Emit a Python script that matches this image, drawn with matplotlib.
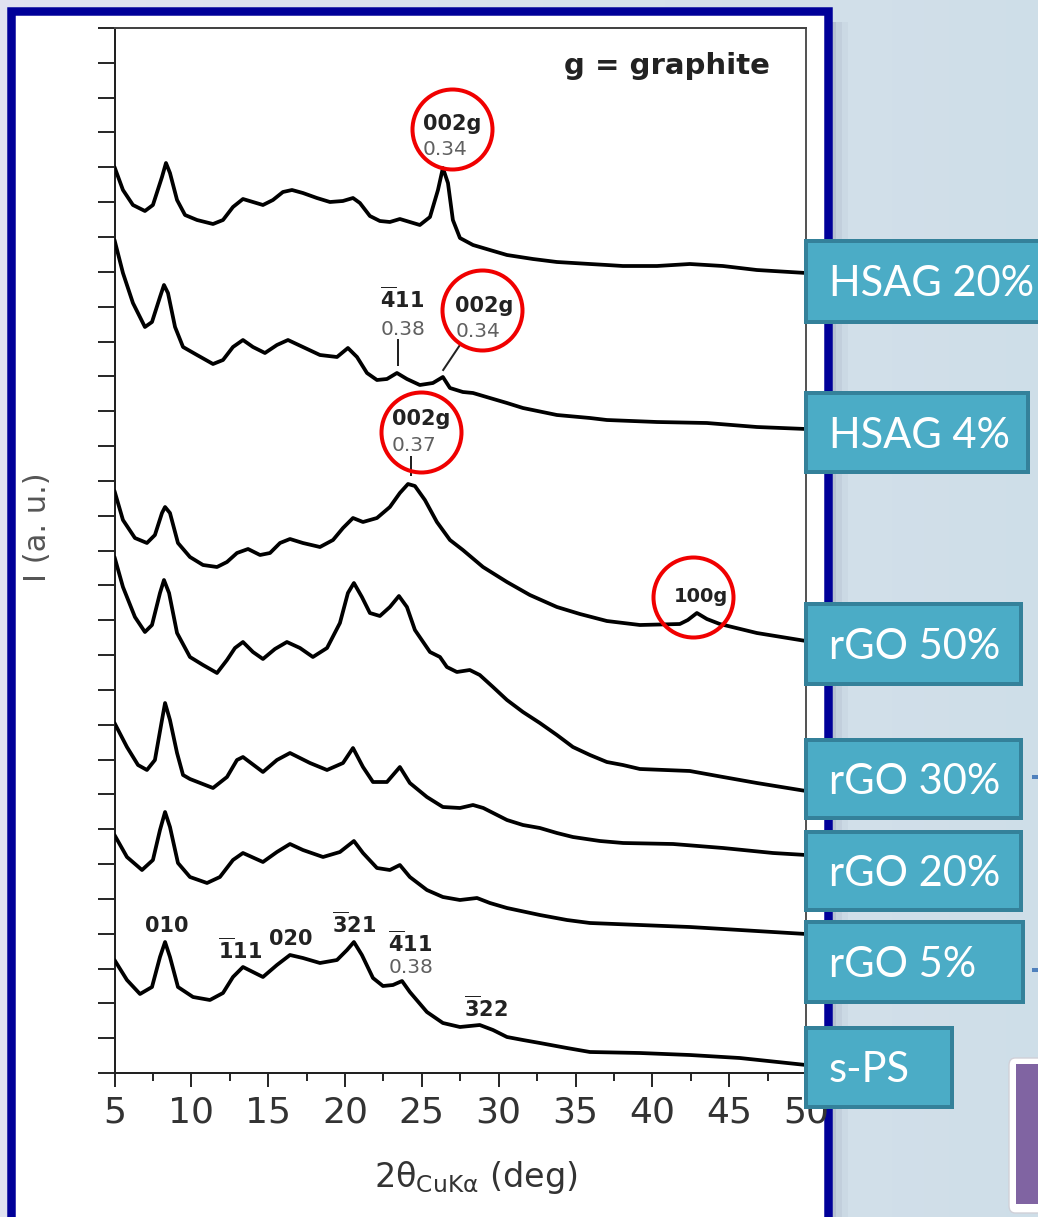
import numpy as np
import matplotlib
matplotlib.use("Agg")
import matplotlib.pyplot as plt
from matplotlib.patches import Rectangle, FancyBboxPatch

# ---------------- diffraction patterns: 2θ (deg) and stacked intensity (a.u.) ----------------
tt_hsag20 = [5.0, 5.55, 6.2, 6.98, 7.5, 8.09, 8.35, 8.61, 9.07, 9.59, 10.37, 11.41, 12.06, 12.71,
             13.36, 14.01, 14.66, 15.31, 15.96, 16.55, 17.26, 18.17, 19.02, 19.86, 20.52, 20.97,
             21.62, 22.27, 22.92, 23.57, 24.22, 24.87, 25.53, 26.05, 26.37, 26.7, 27.02, 27.48,
             28.33, 29.43, 30.54, 32.23, 33.79, 35.94, 37.04, 38.08, 40.3, 42.44, 44.59, 46.8, 50.0]
i_hsag20 = [906, 883, 868, 862, 868, 896, 910, 900, 873, 858, 853, 849, 853, 866,
            874, 871, 868, 873, 881, 883, 880, 875, 871, 872, 875, 870,
            857, 852, 851, 854, 851, 848, 856, 883, 905, 890, 853, 835,
            828, 823, 818, 814, 811, 809, 808, 807, 807, 809, 807, 803, 800]

tt_hsag4 = [5.0, 5.55, 6.2, 6.98, 7.44, 7.96, 8.22, 8.48, 8.94, 9.46, 10.37, 11.41, 12.06, 12.71,
            13.36, 14.01, 14.79, 15.57, 16.29, 17.26, 18.37, 19.48, 20.19, 20.78, 21.43, 22.08,
            22.73, 23.38, 24.03, 24.87, 25.72, 26.37, 26.83, 27.67, 28.33, 29.43, 30.54, 31.58,
            33.79, 35.94, 37.04, 40.3, 43.55, 46.8, 50.0]
i_hsag4 = [833, 800, 770, 746, 751, 776, 788, 780, 746, 726, 718, 709, 713, 726,
           733, 726, 720, 728, 733, 726, 718, 716, 725, 716, 700, 693,
           694, 700, 694, 688, 690, 696, 685, 681, 680, 675, 670, 665,
           658, 655, 653, 651, 650, 646, 644]

tt_rgo50 = [5.0, 5.55, 6.33, 7.11, 7.63, 8.09, 8.29, 8.61, 9.13, 9.91, 10.76, 11.67, 12.32, 12.97,
            13.69, 14.47, 15.12, 15.77, 16.42, 17.26, 18.37, 19.22, 19.87, 20.52, 21.17, 22.08,
            22.92, 23.57, 24.1, 24.55, 25.2, 25.98, 26.83, 27.67, 28.98, 30.54, 32.03, 33.79,
            35.29, 37.04, 39.19, 41.79, 42.31, 42.9, 43.55, 44.39, 46.8, 50.0]
i_rgo50 = [582, 553, 535, 530, 538, 560, 566, 560, 530, 516, 508, 506, 511, 520,
           524, 518, 520, 530, 534, 530, 526, 533, 545, 555, 551, 555,
           566, 580, 589, 587, 573, 551, 533, 523, 506, 491, 478, 466,
           459, 452, 448, 449, 453, 460, 454, 449, 440, 432]

tt_rgo30 = [5.0, 5.55, 6.33, 6.98, 7.44, 7.96, 8.22, 8.55, 9.07, 9.91, 10.76, 11.67, 12.32, 12.84,
            13.36, 14.01, 14.66, 15.44, 16.22, 17.07, 17.91, 18.83, 19.67, 20.19, 20.58, 21.1,
            21.62, 22.27, 22.92, 23.51, 24.03, 24.55, 25.53, 26.18, 26.63, 27.28, 28.12, 28.77,
            29.63, 30.54, 31.58, 32.68, 33.79, 34.83, 35.94, 37.04, 38.08, 39.19, 42.44, 44.6,
            46.8, 50.0]
i_rgo30 = [516, 486, 456, 441, 448, 480, 493, 480, 440, 416, 408, 400, 413, 425,
           431, 421, 414, 424, 431, 425, 416, 425, 450, 480, 490, 476,
           460, 457, 466, 477, 466, 443, 421, 416, 406, 401, 403, 398,
           386, 373, 361, 350, 338, 326, 318, 311, 308, 304, 302, 296,
           290, 282]

tt_rgo20 = [5.0, 5.81, 6.53, 7.11, 7.63, 8.09, 8.29, 8.61, 9.07, 9.46, 9.91, 11.41, 12.32, 12.97,
            13.36, 14.66, 15.57, 16.42, 17.72, 18.83, 19.87, 20.52, 21.17, 21.82, 22.73, 23.57,
            24.22, 25.33, 26.37, 27.48, 28.33, 29.0, 30.54, 31.58, 32.68, 33.79, 34.83, 36.59,
            38.1, 41.35, 44.6, 47.85, 50.0]
i_rgo20 = [350, 326, 308, 303, 313, 353, 370, 353, 320, 298, 294, 285, 296, 313,
           316, 301, 313, 320, 310, 303, 310, 325, 306, 291, 291, 306,
           290, 276, 266, 265, 268, 265, 253, 248, 245, 240, 236, 232,
           230, 229, 225, 220, 218]

tt_rgo5 = [5.0, 5.81, 6.79, 7.5, 7.96, 8.29, 8.61, 9.13, 9.91, 11.02, 11.86, 12.71, 13.36, 14.66,
           15.57, 16.42, 17.26, 18.57, 19.67, 20.58, 21.17, 22.08, 22.92, 23.57, 24.22, 25.33,
           26.37, 27.48, 28.59, 29.43, 30.54, 32.68, 34.44, 35.94, 39.19, 42.44, 45.69, 50.0]
i_rgo5 = [238, 216, 203, 213, 243, 261, 246, 210, 196, 190, 196, 213, 220, 211,
          221, 229, 223, 216, 221, 232, 220, 205, 203, 208, 196, 183,
          176, 173, 175, 170, 165, 158, 153, 150, 148, 146, 143, 139]

tt_sps = [5.0, 5.81, 6.66, 7.44, 7.96, 8.29, 8.61, 9.13, 10.11, 11.21, 12.06, 12.71, 13.36, 14.01,
          14.66, 15.57, 16.42, 17.26, 18.37, 19.48, 20.13, 20.58, 21.1, 21.82, 22.47, 23.12,
          23.71, 24.22, 25.33, 26.37, 27.48, 28.77, 29.63, 30.54, 31.58, 32.68, 34.44, 35.94,
          39.19, 42.44, 45.69, 50.0]
i_sps = [113, 93, 79, 86, 116, 131, 116, 86, 76, 73, 80, 96, 106, 101,
         96, 108, 118, 115, 110, 113, 123, 131, 118, 95, 87, 88,
         92, 81, 61, 50, 46, 48, 43, 36, 33, 30, 25, 21,
         20, 18, 15, 8]

sample_names = ["HSAG 20%", "HSAG 4%", "rGO 50%", "rGO 30%", "rGO 20%", "rGO 5%", "s-PS"]
patterns = [(tt_hsag20, i_hsag20), (tt_hsag4, i_hsag4), (tt_rgo50, i_rgo50), (tt_rgo30, i_rgo30),
            (tt_rgo20, i_rgo20), (tt_rgo5, i_rgo5), (tt_sps, i_sps)]

x_ticks = [5, 10, 15, 20, 25, 30, 35, 40, 45, 50]
x_tick_labels = [str(v) for v in x_ticks]

# ---------------- figure / slide layout ----------------
W, H, DPI = 1038, 1217, 100
fig = plt.figure(figsize=(W / DPI, H / DPI), dpi=DPI)
PT = 72.0 / DPI  # points per pixel


def fx(px):
    return px / W


def fy(py):
    return 1.0 - py / H


# slide backdrop: soft lavender-to-blue wash
bg = fig.add_axes([0, 0, 1, 1], zorder=-10)
bg.axis("off")
c_left = np.array([0.880, 0.890, 0.945])
c_right = np.array([0.810, 0.872, 0.910])
ramp = np.linspace(0.0, 1.0, 128)[None, :, None]
bg.imshow(c_left * (1 - ramp) + c_right * ramp, aspect="auto", extent=[0, 1, 0, 1])
bg.set_xlim(0, 1)
bg.set_ylim(0, 1)

# drop shadow right of the white panel
for k, a in enumerate([0.10, 0.06, 0.035]):
    fig.add_artist(Rectangle((fx(831), fy(1217)), (5 + 6 * k) / W, (1217 - 22) / H,
                             transform=fig.transFigure, facecolor="#3a3f66", alpha=a,
                             edgecolor="none", zorder=-3))

# white panel with a dark blue frame
fig.add_artist(Rectangle((fx(11), fy(1245)), (827.5 - 11) / W, (1245 - 11) / H,
                         transform=fig.transFigure, facecolor="white", edgecolor="#000099",
                         lw=8.5 * PT, zorder=-2))

# ---------------- XRD axes ----------------
ax_l, ax_r, ax_t, ax_b = 114.5, 806.0, 28.0, 1073.0
ax = fig.add_axes([fx(ax_l), fy(ax_b), (ax_r - ax_l) / W, (ax_b - ax_t) / H], zorder=0)
ax.set_facecolor("none")

for tt, inten in patterns:
    ax.plot(tt, inten, color="black", lw=2.7, solid_joinstyle="round", solid_capstyle="round",
            zorder=3)

ax.set_xlim(5, 50)
ax.set_ylim(0, 1045)

ax.set_xticks(x_ticks)
ax.set_xticklabels(x_tick_labels)
ax.set_xticks([7.5 + 5 * k for k in range(9)], minor=True)
ax.set_yticks(np.linspace(0, 1045, 31))
ax.tick_params(axis="y", which="major", direction="out", length=17 * PT, width=2 * PT,
               color="#2a2a2a", labelleft=False, left=True, right=False)
ax.tick_params(axis="x", which="major", direction="out", length=14 * PT, width=2 * PT,
               color="#2a2a2a", labelsize=26, labelcolor="#333333", pad=6, top=False)
ax.tick_params(axis="x", which="minor", direction="out", length=8 * PT, width=2 * PT,
               color="#2a2a2a", top=False)

for side, col in [("left", "#222222"), ("bottom", "#222222"), ("top", "#444444"),
                  ("right", "#555555")]:
    ax.spines[side].set_color(col)
    ax.spines[side].set_linewidth(2 * PT)

ax.set_xlabel(r"2θ$_{\mathregular{CuKα}}$ (deg)", fontsize=24, color="#333333")
ax.xaxis.set_label_coords((476 - ax_l) / (ax_r - ax_l), (ax_b - 1187) / (ax_b - ax_t))
ax.xaxis.label.set_verticalalignment("baseline")

ax.set_ylabel("I (a. u.)", fontsize=22, color="#555555")
ax.yaxis.set_label_coords((37 - ax_l) / (ax_r - ax_l), (ax_b - 527) / (ax_b - ax_t))
ax.yaxis.label.set_verticalalignment("center")

ax.text(40.95, 999, "g = graphite", fontsize=21, fontweight="bold", color="#222222",
        ha="center", va="baseline")

bold_kw = dict(fontsize=15, fontweight="bold", color="#222222", va="baseline", zorder=4)
num_kw = dict(fontsize=14.5, color="#606060", va="baseline", zorder=4)
ring_kw = dict(marker="o", ms=80 * PT, mfc="none", mec="#f00000", mew=4 * PT, ls="none",
               clip_on=False, zorder=5)

# HSAG 20 %: graphite 002 reflection
ax.text(25.07, 943, "002g", ha="left", **bold_kw)
ax.text(25.07, 918, "0.34", ha="left", **num_kw)
ax.plot([26.96], [944], **ring_kw)

# HSAG 4 %
ax.text(22.27, 765, r"$\mathbf{\overline{4}11}$", ha="left", **bold_kw)
ax.text(22.30, 738, "0.38", ha="left", **num_kw)
ax.plot([23.47, 23.47], [733, 708], color="#222222", lw=2 * PT, zorder=4)
ax.text(27.15, 761, "002g", ha="left", **bold_kw)
ax.text(27.17, 736, "0.34", ha="left", **num_kw)
ax.plot([26.39, 27.48], [703, 728], color="#222222", lw=2 * PT, zorder=4)
ax.plot([28.92], [763], **ring_kw)

# rGO 50 %
ax.text(23.03, 648, "002g", ha="left", **bold_kw)
ax.text(23.03, 622, "0.37", ha="left", **num_kw)
ax.plot([24.27, 24.27], [616, 598], color="#222222", lw=2 * PT, zorder=4)
ax.plot([24.92], [641], **ring_kw)
ax.text(43.14, 471, "100g", ha="center", fontsize=14, fontweight="bold", color="#222222",
        va="baseline", zorder=4)
ax.plot([42.66], [476], **ring_kw)

# s-PS reflections
ax.text(8.40, 141, "010", ha="center", **bold_kw)
ax.text(13.17, 114, r"$\mathbf{\overline{1}11}$", ha="center", **bold_kw)
ax.text(16.46, 128, "020", ha="center", **bold_kw)
ax.text(20.56, 140, r"$\mathbf{\overline{3}21}$", ha="center", **bold_kw)
ax.text(22.82, 121, r"$\mathbf{\overline{4}11}$", ha="left", **bold_kw)
ax.text(22.84, 100, "0.38", ha="left", **num_kw)
ax.text(29.16, 56, r"$\mathbf{\overline{3}22}$", ha="center", **bold_kw)

# ---------------- sample tags on the right ----------------
tag_boxes = [(241, 322, 1045), (393, 472, 1028), (604, 684, 1021), (740, 818, 1021),
             (832, 910, 1021), (922, 1002, 1023), (1028, 1107, 952)]
for name, (top, bot, right) in zip(sample_names, tag_boxes):
    fig.add_artist(Rectangle((fx(806), fy(bot)), (right - 806) / W, (bot - top) / H,
                             transform=fig.transFigure, facecolor="#4bacc6",
                             edgecolor="#34819a", lw=4 * PT, zorder=6))
    fig.text(fx(829), fy((top + bot) / 2 + 15), name, fontsize=30, family="Lato",
             color="white", ha="left", va="baseline", zorder=7)

# small connector stubs next to two tags
for yy in (777, 970):
    fig.add_artist(Rectangle((fx(1032), fy(yy + 2)), 6 / W, 4 / H, transform=fig.transFigure,
                             facecolor="#4f81bd", edgecolor="none", zorder=6))

# purple tile peeking in at the bottom right
fig.add_artist(FancyBboxPatch((fx(1009), fy(1213)), 60 / W, 155 / H,
                              boxstyle="round,pad=0,rounding_size=0.006",
                              transform=fig.transFigure, facecolor="white",
                              edgecolor="#d0d0d8", lw=1, zorder=6))
fig.add_artist(Rectangle((fx(1016), fy(1204)), 40 / W, 140 / H, transform=fig.transFigure,
                         facecolor="#8064a2", edgecolor="none", zorder=7))

fig.savefig("out.png", dpi=DPI)
